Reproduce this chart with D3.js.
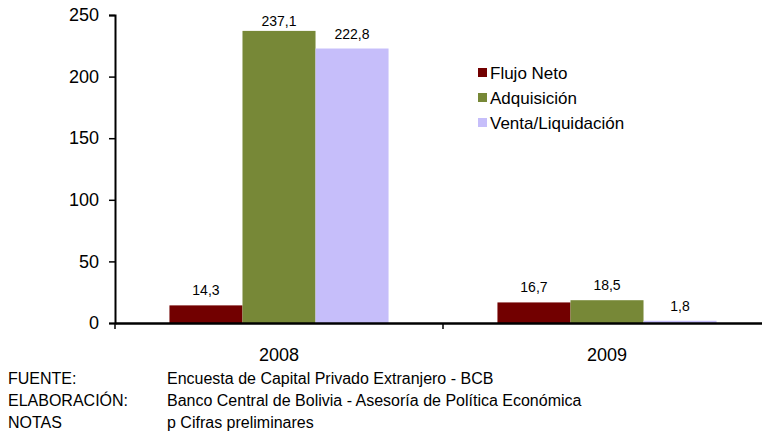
<!DOCTYPE html>
<html>
<head>
<meta charset="utf-8">
<script src="https://cdn.jsdelivr.net/npm/d3@7"></script>
<style>
  body { margin: 0; background: #fff; }
  svg { font-family: "Liberation Sans", Arial, sans-serif; }
</style>
</head>
<body>
<div id="chart"></div>
<script>
// data
const years = ['2008', '2009'];
const seriesNames = ['Flujo Neto', 'Adquisición', 'Venta/Liquidación'];
const flujoNeto = [14.3, 16.7];
const adquisicion = [237.1, 18.5];
const ventaLiquidacion = [222.8, 1.8];
const yTicks = [0, 50, 100, 150, 200, 250];
const notes = [
  ['FUENTE:', 'Encuesta de Capital Privado Extranjero - BCB'],
  ['ELABORACIÓN:', 'Banco Central de Bolivia - Asesoría de Política Económica'],
  ['NOTAS', 'p Cifras preliminares']
];

const colors = ['#720000', '#778837', '#c6befa'];
const seriesValues = [flujoNeto, adquisicion, ventaLiquidacion];

const width = 762;
const height = 431;

const svg = d3.select('#chart')
  .append('svg')
  .attr('width', width)
  .attr('height', height);

// plot area
const plotLeft = 115;
const plotRight = 771;
const plotTop = 15;
const plotBottom = 323;

const x = d3.scaleBand()
  .domain(years)
  .range([plotLeft, plotRight]);

const inner = d3.scaleBand()
  .domain(seriesNames)
  .range([0, x.bandwidth() * 0.668]);
const innerOffset = (x.bandwidth() - inner.range()[1]) / 2;

const y = d3.scaleLinear()
  .domain([0, 250])
  .range([plotBottom, plotTop]);

// bars
const rows = [];
years.forEach((yr, i) => {
  seriesNames.forEach((s, j) => {
    rows.push({ year: yr, series: s, value: seriesValues[j][i], color: colors[j] });
  });
});

const groupBars = svg.append('g').attr('class', 'bars');

groupBars.selectAll('rect')
  .data(rows)
  .enter()
  .append('rect')
  .attr('x', d => x(d.year) + innerOffset + inner(d.series))
  .attr('y', d => y(d.value))
  .attr('width', inner.bandwidth())
  .attr('height', d => y(0) - y(d.value))
  .attr('fill', d => d.color);

// value labels (Excel keeps them inside the plot area)
groupBars.selectAll('text')
  .data(rows)
  .enter()
  .append('text')
  .attr('x', d => x(d.year) + innerOffset + inner(d.series) + inner.bandwidth() / 2)
  .attr('y', d => Math.max(y(d.value) - 10, plotTop + 11))
  .attr('text-anchor', 'middle')
  .attr('font-size', 14)
  .attr('fill', '#000')
  .text(d => d3.format('.1f')(d.value).replace('.', ','));

// y axis
const axisY = d3.axisLeft(y).tickValues(yTicks).tickSize(6).tickPadding(10);
const gY = svg.append('g')
  .attr('transform', `translate(${plotLeft}, 0)`)
  .call(axisY);
gY.selectAll('text').attr('font-size', 18).attr('fill', '#000').attr('font-family', '"Liberation Sans", Arial, sans-serif');
gY.select('.domain').attr('stroke', '#000').attr('stroke-width', 2);
gY.selectAll('.tick line').attr('stroke', '#000').attr('stroke-width', 1.5);

// x axis
const axisX = d3.axisBottom(x).tickSize(0).tickPadding(0);
const gX = svg.append('g')
  .attr('transform', `translate(0, ${plotBottom})`)
  .call(axisX);
gX.select('.domain').attr('stroke', '#000').attr('stroke-width', 2.5);
gX.selectAll('text')
  .attr('font-size', 18)
  .attr('fill', '#000')
  .attr('font-family', '"Liberation Sans", Arial, sans-serif')
  .attr('dy', 0)
  .attr('y', 38);

// category separator ticks
gX.selectAll('.sep')
  .data(years)
  .enter()
  .append('line')
  .attr('class', 'sep')
  .attr('x1', d => x(d))
  .attr('x2', d => x(d))
  .attr('y1', 0)
  .attr('y2', 6)
  .attr('stroke', '#000')
  .attr('stroke-width', 1.5);

// legend
const legend = svg.append('g')
  .attr('class', 'legend')
  .attr('transform', 'translate(478, 68)');

const legendItem = legend.selectAll('g')
  .data(seriesNames)
  .enter()
  .append('g')
  .attr('transform', (d, i) => `translate(0, ${i * 25})`);

legendItem.append('rect')
  .attr('width', 9)
  .attr('height', 9)
  .attr('fill', (d, i) => colors[i]);

legendItem.append('text')
  .attr('x', 12)
  .attr('y', 11)
  .attr('font-size', 17)
  .attr('fill', '#000')
  .text(d => d);

// footer notes
const footer = svg.append('g').attr('class', 'notes');
notes.forEach((n, i) => {
  footer.append('text')
    .attr('x', 8)
    .attr('y', 384 + i * 22)
    .attr('font-size', 16)
    .text(n[0]);
  footer.append('text')
    .attr('x', 167)
    .attr('y', 384 + i * 22)
    .attr('font-size', 16)
    .text(n[1]);
});
</script>
</body>
</html>
